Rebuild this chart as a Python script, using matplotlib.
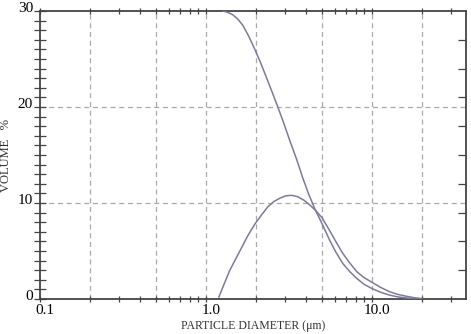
import numpy as np
import matplotlib
matplotlib.use("Agg")
import matplotlib.pyplot as plt
from matplotlib import transforms
from matplotlib.ticker import FixedLocator, LogLocator, NullFormatter

# dados (diametro em um, volume em %)
cum_d = [1.266, 1.357, 1.454, 1.559, 1.671, 1.816, 1.973, 2.115, 2.267, 2.464,
         2.715, 2.951, 3.206, 3.533, 3.840, 4.173, 4.535, 4.998, 5.585, 6.069,
         6.690, 7.372, 8.120, 8.950, 10.0, 11.33, 12.84, 14.34, 16.25, 17.91, 20.0]
cum_v = [30.0, 29.85, 29.6, 29.15, 28.5, 27.35, 26.0, 24.8, 23.5, 21.9,
         20.0, 18.3, 16.5, 14.5, 12.6, 10.9, 9.4, 7.9, 6.1, 4.9,
         3.7, 2.85, 2.15, 1.55, 1.1, 0.7, 0.4, 0.22, 0.1, 0.04, 0.0]

freq_d = [1.198, 1.284, 1.395, 1.516, 1.648, 1.791, 1.973, 2.175, 2.363, 2.568,
          2.791, 3.033, 3.297, 3.583, 3.894, 4.231, 4.599, 4.998, 5.585, 6.069,
          6.690, 7.372, 8.120, 8.950, 10.0, 11.33, 12.84, 14.34, 16.25, 17.91, 20.0]
freq_v = [0.2, 1.5, 3.0, 4.2, 5.4, 6.6, 7.8, 8.8, 9.6, 10.15,
          10.5, 10.75, 10.8, 10.65, 10.3, 9.8, 9.2, 8.5, 7.1, 6.0,
          4.75, 3.75, 2.85, 2.25, 1.75, 1.2, 0.75, 0.48, 0.28, 0.14, 0.05]

grade_x = [0.2, 0.5, 1.0, 2.0, 5.0, 10.0, 20.0]
grade_y = [10, 20]
xticks = [0.1, 1.0, 10.0]
xticklabels = ["0.1", "1.0", "10.0"]
yticks = [0, 10, 20, 30]
ytick_dir = [3, 6, 9, 12, 15, 18, 21, 24, 27]

plt.rcParams['font.family'] = ['Liberation Serif', 'DejaVu Serif']
cor_linha = '#7b7b9c'
cor_eixo = '#444444'
cor_grade = '#aaaaaa'

fig = plt.figure(figsize=(4.71, 3.34), dpi=100)
ax = fig.add_axes([40/471, 35/334, 426/471, 288/334])

ax.set_xscale('log')
ax.set_xlim(0.1, 37)
ax.set_ylim(0, 30)

for g in grade_x:
    ax.axvline(g, color=cor_grade, lw=0.9, dashes=(4, 3), zorder=1)
for g in grade_y:
    ax.axhline(g, color=cor_grade, lw=0.9, dashes=(4, 3), zorder=1)

ax.plot(cum_d, cum_v, color=cor_linha, lw=1.1, zorder=3)
ax.plot(freq_d, freq_v, color=cor_linha, lw=1.1, zorder=3)

for s in ax.spines.values():
    s.set_color(cor_eixo)
    s.set_linewidth(1.3)

ax.xaxis.set_major_locator(FixedLocator(xticks))
ax.set_xticklabels(xticklabels)
ax.xaxis.set_minor_locator(LogLocator(base=10, subs=np.arange(2, 10)))
ax.xaxis.set_minor_formatter(NullFormatter())
ax.set_yticks(yticks)
ax.set_yticklabels([str(v) for v in yticks])
ax.yaxis.set_minor_locator(FixedLocator(np.arange(0, 31, 1)))

ax.tick_params(axis='x', which='both', direction='inout', length=5, width=0.9,
               color=cor_eixo, top=True, bottom=True, labelsize=11, pad=1)
ax.tick_params(axis='y', which='both', direction='inout', length=8, width=0.9,
               color=cor_eixo, left=True, right=False, labelsize=11, pad=1)

# rotulos um pouco deslocados como no original
off_x = transforms.ScaledTranslation(5/100, 0, fig.dpi_scale_trans)
for lb in ax.get_xticklabels():
    lb.set_transform(lb.get_transform() + off_x)
off_y = transforms.ScaledTranslation(0, 4/100, fig.dpi_scale_trans)
for lb in ax.get_yticklabels():
    lb.set_transform(lb.get_transform() + off_y)

ax2 = ax.twinx()
ax2.set_ylim(0, 30)
ax2.set_yticks(ytick_dir)
ax2.tick_params(axis='y', direction='in', length=6, width=0.9, color=cor_eixo,
                labelright=False)
for s in ax2.spines.values():
    s.set_visible(False)

ax.set_xlabel('PARTICLE DIAMETER (\u03bcm)', fontsize=8.5, color='#333333', labelpad=2)
ax.set_ylabel('VOLUME   %', fontsize=9, color='#333333', labelpad=4)

fig.savefig('out.png', dpi=100, facecolor='white')
